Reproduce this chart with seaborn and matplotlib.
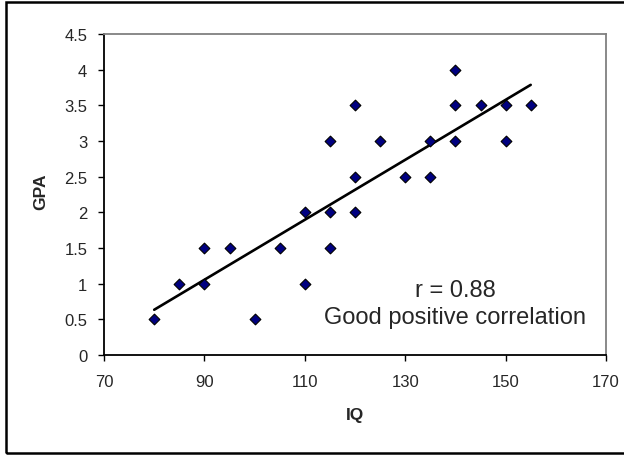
import matplotlib
matplotlib.use("Agg")
import matplotlib.pyplot as plt
import seaborn as sns
import pandas as pd
from matplotlib.patches import Rectangle

iq = [80, 85, 90, 90, 95, 100, 105, 110, 110, 115, 115, 115, 120, 120, 120,
      125, 130, 135, 135, 140, 140, 140, 145, 150, 150, 155]
gpa = [0.5, 1, 1.5, 1, 1.5, 0.5, 1.5, 2, 1, 3, 2, 1.5, 3.5, 2.5, 2,
       3, 2.5, 3, 2.5, 4, 3.5, 3, 3.5, 3.5, 3, 3.5]
x_ticks = [70, 90, 110, 130, 150, 170]
y_ticks = [0, 0.5, 1, 1.5, 2, 2.5, 3, 3.5, 4, 4.5]
y_tick_labels = ["0", "0.5", "1", "1.5", "2", "2.5", "3", "3.5", "4", "4.5"]

df = pd.DataFrame({"IQ": iq, "GPA": gpa})

sns.set_style("white")
plt.rcParams["font.family"] = ["Liberation Sans", "DejaVu Sans"]

fig = plt.figure(figsize=(6.24, 4.56), dpi=100)
ax = fig.add_axes([104/624, 1-356/456, (606-104)/624, (356-35)/456])

sns.regplot(data=df, x="IQ", y="GPA", ax=ax, ci=None, truncate=True,
            marker="D",
            scatter_kws=dict(s=30, color="#000080", edgecolor="black", linewidths=0.8,
                             alpha=1, zorder=3),
            line_kws=dict(color="black", lw=1.9, zorder=2))

ax.set_xlim(70, 170)
ax.set_ylim(0, 4.5)
ax.set_xticks(x_ticks)
ax.set_xticklabels([str(t) for t in x_ticks])
ax.set_yticks(y_ticks)
ax.set_yticklabels(y_tick_labels)
ax.tick_params(axis="both", direction="out", length=4, width=1, color="black",
               labelsize=12, left=True, bottom=True)
ax.tick_params(axis="y", pad=8)
ax.tick_params(axis="x", pad=10)
for s in ["left", "bottom"]:
    ax.spines[s].set_color("black")
    ax.spines[s].set_linewidth(1.3)
for s in ["top", "right"]:
    ax.spines[s].set_color("#808080")
    ax.spines[s].set_linewidth(1.3)

ax.set_xlabel("IQ", fontsize=12.5, fontweight="bold", va="center")
ax.set_ylabel("GPA", fontsize=12.5, fontweight="bold", va="center")
ax.xaxis.set_label_coords(0.5, (356-416)/321)
ax.yaxis.set_label_coords((41-104)/502, (356-192)/321)

ax.text(140, 0.91, "r = 0.88", ha="center", va="center", fontsize=17)
ax.text(140, 0.53, "Good positive correlation", ha="center", va="center", fontsize=17)

fig.patches.append(Rectangle((6/624, 2/456), 1.0, 451/456, transform=fig.transFigure,
                             fill=False, edgecolor="black", linewidth=1.8))

fig.savefig("out.png", dpi=100)
